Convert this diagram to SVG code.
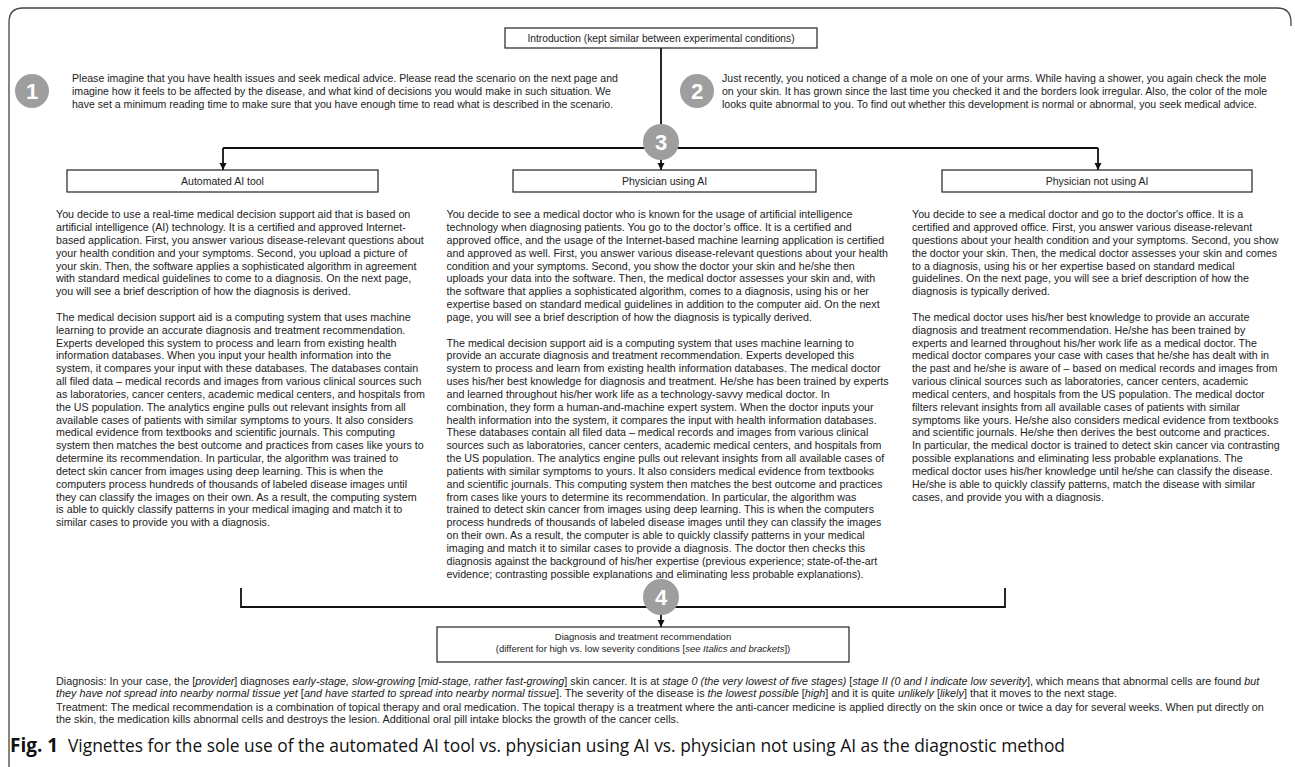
<svg xmlns="http://www.w3.org/2000/svg" width="1295" height="767" viewBox="0 0 1295 767">
<style>
.t{font-family:"Liberation Sans",Arial,sans-serif;font-size:10.7px;fill:#222}
.p{font-family:"Liberation Sans",Arial,sans-serif;font-size:10.55px;fill:#222}
.s{font-family:"Liberation Sans",Arial,sans-serif;font-size:10.8px;fill:#222}
.d{font-family:"Liberation Sans",Arial,sans-serif;font-size:9.5px;fill:#222;text-anchor:middle}
.h{font-family:"Liberation Sans",Arial,sans-serif;font-size:10.5px;fill:#222;text-anchor:middle}
.box{fill:#fff;stroke:#222;stroke-width:1.2}
.ln{stroke:#111;stroke-width:1.8;fill:none}
.circ{fill:#9e9e9e}
.num{font-family:"Liberation Sans",Arial,sans-serif;font-weight:bold;font-size:22px;fill:#fff;text-anchor:middle}
.i{font-style:italic}
</style>
<defs>
<marker id="arr" viewBox="0 0 10 10" refX="10" refY="5" markerWidth="4" markerHeight="4" orient="auto" markerUnits="strokeWidth">
<path d="M0,0 L10,5 L0,10 z" fill="#111"/>
</marker>
</defs>
<rect width="1295" height="767" fill="#fff"/>
<path d="M9,767 V22 Q9,8 23,8 H1277 Q1291,8 1291,22 V26" fill="none" stroke="#444" stroke-width="1.3"/>

<g id="connectors">
<path class="ln" d="M661,48 V170" marker-end="url(#arr)"/>
<path class="ln" d="M223,148 H1098"/>
<path class="ln" d="M223,148 V170" marker-end="url(#arr)"/>
<path class="ln" d="M1098,148 V170" marker-end="url(#arr)"/>
<path class="ln" d="M241,588 V607 H1005 V588"/>
<path class="ln" d="M661,607 V627" marker-end="url(#arr)"/>
</g>

<g id="intro">
<rect class="box" x="505" y="28" width="312" height="20"/>
<text class="h" x="661" y="42" style="font-size:10.25px">Introduction (kept similar between experimental conditions)</text>
</g>

<g id="step1">
<circle class="circ" cx="32" cy="91" r="17"/>
<text class="num" x="32" y="99">1</text>
<text class="p" x="72" y="81.7">Please imagine that you have health issues and seek medical advice. Please read the scenario on the next page and<tspan x="72" dy="13">imagine how it feels to be affected by the disease, and what kind of decisions you would make in such situation. We</tspan><tspan x="72" dy="13">have set a minimum reading time to make sure that you have enough time to read what is described in the scenario.</tspan></text>
</g>

<g id="step2">
<circle class="circ" cx="697" cy="91" r="17"/>
<text class="num" x="697" y="99">2</text>
<text class="p" x="722" y="81.7">Just recently, you noticed a change of a mole on one of your arms. While having a shower, you again check the mole<tspan x="722" dy="13">on your skin. It has grown since the last time you checked it and the borders look irregular. Also, the color of the mole</tspan><tspan x="722" dy="13">looks quite abnormal to you. To find out whether this development is normal or abnormal, you seek medical advice.</tspan></text>
</g>

<g id="step3">
<circle class="circ" cx="661" cy="142" r="18"/>
<text class="num" x="661" y="150">3</text>
</g>

<g id="automated">
<rect class="box" x="67" y="170" width="311" height="22"/>
<text class="h" x="222.5" y="185">Automated AI tool</text>
<text class="t" x="56" y="218.3">You decide to use a real-time medical decision support aid that is based on<tspan x="56" dy="12.83">artificial intelligence (AI) technology. It is a certified and approved Internet-</tspan><tspan x="56" dy="12.83">based application. First, you answer various disease-relevant questions about</tspan><tspan x="56" dy="12.83">your health condition and your symptoms. Second, you upload a picture of</tspan><tspan x="56" dy="12.83">your skin. Then, the software applies a sophisticated algorithm in agreement</tspan><tspan x="56" dy="12.83">with standard medical guidelines to come to a diagnosis. On the next page,</tspan><tspan x="56" dy="12.83">you will see a brief description of how the diagnosis is derived.</tspan><tspan x="56" dy="25.66">The medical decision support aid is a computing system that uses machine</tspan><tspan x="56" dy="12.83">learning to provide an accurate diagnosis and treatment recommendation.</tspan><tspan x="56" dy="12.83">Experts developed this system to process and learn from existing health</tspan><tspan x="56" dy="12.83">information databases. When you input your health information into the</tspan><tspan x="56" dy="12.83">system, it compares your input with these databases. The databases contain</tspan><tspan x="56" dy="12.83">all filed data – medical records and images from various clinical sources such</tspan><tspan x="56" dy="12.83">as laboratories, cancer centers, academic medical centers, and hospitals from</tspan><tspan x="56" dy="12.83">the US population. The analytics engine pulls out relevant insights from all</tspan><tspan x="56" dy="12.83">available cases of patients with similar symptoms to yours. It also considers</tspan><tspan x="56" dy="12.83">medical evidence from textbooks and scientific journals. This computing</tspan><tspan x="56" dy="12.83">system then matches the best outcome and practices from cases like yours to</tspan><tspan x="56" dy="12.83">determine its recommendation. In particular, the algorithm was trained to</tspan><tspan x="56" dy="12.83">detect skin cancer from images using deep learning. This is when the</tspan><tspan x="56" dy="12.83">computers process hundreds of thousands of labeled disease images until</tspan><tspan x="56" dy="12.83">they can classify the images on their own. As a result, the computing system</tspan><tspan x="56" dy="12.83">is able to quickly classify patterns in your medical imaging and match it to</tspan><tspan x="56" dy="12.83">similar cases to provide you with a diagnosis.</tspan></text>
</g>

<g id="physician-ai">
<rect class="box" x="513" y="170" width="303" height="22"/>
<text class="h" x="664.5" y="185">Physician using AI</text>
<text class="t" x="446.5" y="218.3">You decide to see a medical doctor who is known for the usage of artificial intelligence<tspan x="446.5" dy="12.83">technology when diagnosing patients. You go to the doctor’s office. It is a certified and</tspan><tspan x="446.5" dy="12.83">approved office, and the usage of the Internet-based machine learning application is certified</tspan><tspan x="446.5" dy="12.83">and approved as well. First, you answer various disease-relevant questions about your health</tspan><tspan x="446.5" dy="12.83">condition and your symptoms. Second, you show the doctor your skin and he/she then</tspan><tspan x="446.5" dy="12.83">uploads your data into the software. Then, the medical doctor assesses your skin and, with</tspan><tspan x="446.5" dy="12.83">the software that applies a sophisticated algorithm, comes to a diagnosis, using his or her</tspan><tspan x="446.5" dy="12.83">expertise based on standard medical guidelines in addition to the computer aid. On the next</tspan><tspan x="446.5" dy="12.83">page, you will see a brief description of how the diagnosis is typically derived.</tspan><tspan x="446.5" dy="25.66">The medical decision support aid is a computing system that uses machine learning to</tspan><tspan x="446.5" dy="12.83">provide an accurate diagnosis and treatment recommendation. Experts developed this</tspan><tspan x="446.5" dy="12.83">system to process and learn from existing health information databases. The medical doctor</tspan><tspan x="446.5" dy="12.83">uses his/her best knowledge for diagnosis and treatment. He/she has been trained by experts</tspan><tspan x="446.5" dy="12.83">and learned throughout his/her work life as a technology-savvy medical doctor. In</tspan><tspan x="446.5" dy="12.83">combination, they form a human-and-machine expert system. When the doctor inputs your</tspan><tspan x="446.5" dy="12.83">health information into the system, it compares the input with health information databases.</tspan><tspan x="446.5" dy="12.83">These databases contain all filed data – medical records and images from various clinical</tspan><tspan x="446.5" dy="12.83">sources such as laboratories, cancer centers, academic medical centers, and hospitals from</tspan><tspan x="446.5" dy="12.83">the US population. The analytics engine pulls out relevant insights from all available cases of</tspan><tspan x="446.5" dy="12.83">patients with similar symptoms to yours. It also considers medical evidence from textbooks</tspan><tspan x="446.5" dy="12.83">and scientific journals. This computing system then matches the best outcome and practices</tspan><tspan x="446.5" dy="12.83">from cases like yours to determine its recommendation. In particular, the algorithm was</tspan><tspan x="446.5" dy="12.83">trained to detect skin cancer from images using deep learning. This is when the computers</tspan><tspan x="446.5" dy="12.83">process hundreds of thousands of labeled disease images until they can classify the images</tspan><tspan x="446.5" dy="12.83">on their own. As a result, the computer is able to quickly classify patterns in your medical</tspan><tspan x="446.5" dy="12.83">imaging and match it to similar cases to provide a diagnosis. The doctor then checks this</tspan><tspan x="446.5" dy="12.83">diagnosis against the background of his/her expertise (previous experience; state-of-the-art</tspan><tspan x="446.5" dy="12.83">evidence; contrasting possible explanations and eliminating less probable explanations).</tspan></text>
</g>

<g id="physician-no-ai">
<rect class="box" x="942" y="170" width="310" height="22"/>
<text class="h" x="1097" y="185">Physician not using AI</text>
<text class="t" x="912" y="218.3">You decide to see a medical doctor and go to the doctor's office. It is a<tspan x="912" dy="12.83">certified and approved office. First, you answer various disease-relevant</tspan><tspan x="912" dy="12.83">questions about your health condition and your symptoms. Second, you show</tspan><tspan x="912" dy="12.83">the doctor your skin. Then, the medical doctor assesses your skin and comes</tspan><tspan x="912" dy="12.83">to a diagnosis, using his or her expertise based on standard medical</tspan><tspan x="912" dy="12.83">guidelines. On the next page, you will see a brief description of how the</tspan><tspan x="912" dy="12.83">diagnosis is typically derived.</tspan><tspan x="912" dy="25.66">The medical doctor uses his/her best knowledge to provide an accurate</tspan><tspan x="912" dy="12.83">diagnosis and treatment recommendation. He/she has been trained by</tspan><tspan x="912" dy="12.83">experts and learned throughout his/her work life as a medical doctor. The</tspan><tspan x="912" dy="12.83">medical doctor compares your case with cases that he/she has dealt with in</tspan><tspan x="912" dy="12.83">the past and he/she is aware of – based on medical records and images from</tspan><tspan x="912" dy="12.83">various clinical sources such as laboratories, cancer centers, academic</tspan><tspan x="912" dy="12.83">medical centers, and hospitals from the US population. The medical doctor</tspan><tspan x="912" dy="12.83">filters relevant insights from all available cases of patients with similar</tspan><tspan x="912" dy="12.83">symptoms like yours. He/she also considers medical evidence from textbooks</tspan><tspan x="912" dy="12.83">and scientific journals. He/she then derives the best outcome and practices.</tspan><tspan x="912" dy="12.83">In particular, the medical doctor is trained to detect skin cancer via contrasting</tspan><tspan x="912" dy="12.83">possible explanations and eliminating less probable explanations. The</tspan><tspan x="912" dy="12.83">medical doctor uses his/her knowledge until he/she can classify the disease.</tspan><tspan x="912" dy="12.83">He/she is able to quickly classify patterns, match the disease with similar</tspan><tspan x="912" dy="12.83">cases, and provide you with a diagnosis.</tspan></text>
</g>

<g id="step4">
<circle class="circ" cx="661" cy="597" r="18"/>
<text class="num" x="661" y="605">4</text>
</g>

<g id="diagnosis">
<rect class="box" x="437" y="627" width="412" height="35"/>
<text class="d" x="643" y="640.3">Diagnosis and treatment recommendation</text>
<text class="d" x="643" y="652.3">(different for high vs. low severity conditions [<tspan class="i">see Italics and brackets</tspan>])</text>
</g>

<g id="details">
<text class="s" x="56" y="684.5">Diagnosis: In your case, the [<tspan class="i">provider</tspan>] diagnoses <tspan class="i">early-stage, slow-growing</tspan> [<tspan class="i">mid-stage, rather fast-growing</tspan>] skin cancer. It is at <tspan class="i">stage 0 (the very lowest of five stages)</tspan> [<tspan class="i">stage II (0 and I indicate low severity</tspan>], which means that abnormal cells are found <tspan class="i">but</tspan></text>
<text class="s" x="56" y="697"><tspan class="i">they have not spread into nearby normal tissue yet</tspan> [<tspan class="i">and have started to spread into nearby normal tissue</tspan>]. The severity of the disease is <tspan class="i">the lowest possible</tspan> [<tspan class="i">high</tspan>] and it is quite <tspan class="i">unlikely</tspan> [<tspan class="i">likely</tspan>] that it moves to the next stage.</text>
<text class="s" x="56" y="711">Treatment: The medical recommendation is a combination of topical therapy and oral medication. The topical therapy is a treatment where the anti-cancer medicine is applied directly on the skin once or twice a day for several weeks. When put directly on</text>
<text class="s" x="56" y="723.3">the skin, the medication kills abnormal cells and destroys the lesion. Additional oral pill intake blocks the growth of the cancer cells.</text>
</g>

<g id="caption">
<text x="10" y="752" style="font-family:'Open Sans','Noto Sans',sans-serif;font-size:19px;fill:#111"><tspan font-weight="bold">Fig. 1</tspan><tspan x="68" textLength="997" lengthAdjust="spacingAndGlyphs">Vignettes for the sole use of the automated AI tool vs. physician using AI vs. physician not using AI as the diagnostic method</tspan></text>
</g>
</svg>
